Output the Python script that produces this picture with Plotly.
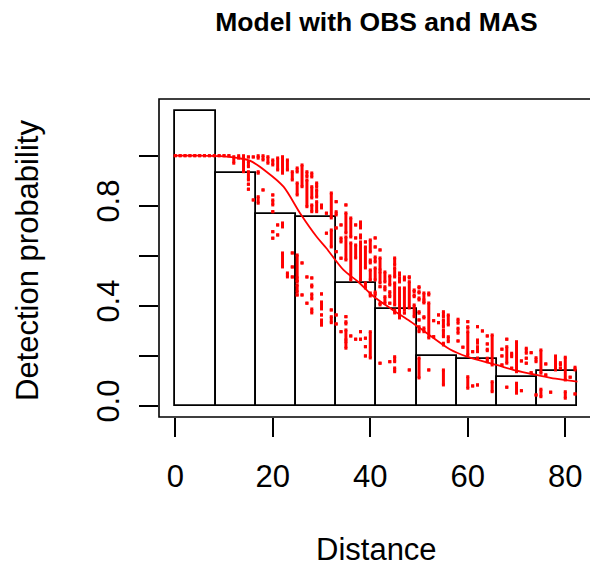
import plotly.graph_objects as go

# ---------------- data ----------------
title_text = "Model with OBS and MAS"
x_label = "Distance"
y_label = "Detection probability"

x_tickvals = [0, 20, 40, 60, 80]
x_ticktext = ["0", "20", "40", "60", "80"]
y_tickvals = [0.0, 0.2, 0.4, 0.6, 0.8, 1.0]
y_ticktext = ["0.0", "", "0.4", "", "0.8", ""]

# histogram (scaled) of observed distances
bin_edges = [0, 8.25, 16.5, 24.75, 33.0, 41.25, 49.5, 57.75, 66.0, 74.25, 82.5]
bin_heights = [1.179, 0.930, 0.767, 0.754, 0.490, 0.387, 0.199, 0.187, 0.114, 0.140]

# average detection function
curve_dist = [0, 5, 10, 13, 15.3, 18.7, 22.2, 25.6, 29, 31, 34.5, 37.5, 40.5,
              44.4, 47.8, 51.2, 56.3, 60, 65.9, 70, 74.1, 78, 82.5]
curve_p = [1.0, 1.0, 0.997, 0.99, 0.98, 0.936, 0.876, 0.77, 0.676, 0.63, 0.543,
           0.496, 0.44, 0.386, 0.343, 0.296, 0.226, 0.195, 0.163, 0.14, 0.123,
           0.108, 0.096]

# fitted detection probabilities of individual observations (stacked runs)
pt_dist = [
    0, 1, 2, 3, 4, 5, 6, 7, 8, 9, 10, 11,
    12,
    13,
    14,
    15, 15, 15, 15, 15,
    16, 16,
    17, 17, 17,
    18, 18,
    19,
    20, 20, 20, 20, 20, 20,
    21, 21, 21,
    22, 22, 22,
    23, 23,
    24, 24, 24, 24,
    25, 25, 25, 25, 25, 25,
    26, 26, 26,
    27, 27, 27, 27,
    28, 28, 28, 28, 28, 28, 28,
    29, 29, 29,
    30, 30, 30, 30, 30, 30,
    31, 31,
    32, 32, 32, 32,
    33, 33, 33, 33, 33, 33,
    34, 34, 34, 34,
    35, 35, 35, 35, 35, 35, 35,
    36, 36, 36,
    37, 37, 37, 37,
    38, 38, 38, 38, 38,
    39, 39, 39, 39, 39, 39,
    40, 40, 40, 40, 40,
    41, 41, 41, 41, 41,
    42, 42, 42, 42, 42, 42,
    43, 43, 43,
    44, 44, 44, 44,
    45, 45, 45, 45, 45, 45,
    46, 46, 46, 46,
    47, 47, 47,
    48, 48, 48,
    49, 49, 49,
    50, 50, 50, 50, 50, 50, 50,
    51, 51, 51, 51,
    52, 52, 52,
    53, 53,
    54, 54,
    55, 55, 55, 55, 55,
    56, 56,
    58, 58, 58,
    59,
    60, 60, 60, 60,
    61, 61,
    62, 62, 62, 62, 62,
    63,
    64, 64, 64, 64,
    65, 65,
    67, 67, 67,
    68, 68, 68,
    69, 69,
    70, 70,
    71, 71,
    72, 72, 72,
    73, 73,
    74, 74,
    75, 75,
    76, 76,
    77,
    78,
    79, 79,
    80, 80,
    81,
    82, 82,
]
pt_top = [
    1.0, 1.0, 1.0, 1.0, 1.0, 1.0, 1.0, 1.0, 1.0, 1.0, 1.0, 1.0,
    0.996,
    1.0,
    1.0,
    0.995, 0.976, 0.936, 0.886, 0.866,
    0.995, 0.823,
    1.0, 0.936, 0.836,
    1.0, 0.863,
    0.996,
    0.983, 0.843, 0.823, 0.776, 0.696, 0.670,
    0.991, 0.723, 0.683,
    0.996, 0.731, 0.611,
    0.983, 0.531,
    0.936, 0.611, 0.555, 0.515,
    0.951, 0.891, 0.603, 0.503, 0.483, 0.443,
    0.963, 0.571, 0.443,
    0.936, 0.903, 0.515, 0.410,
    0.931, 0.876, 0.803, 0.511, 0.483, 0.447, 0.387,
    0.891, 0.863, 0.816,
    0.803, 0.447, 0.415, 0.363, 0.343, 0.323,
    0.770, 0.690,
    0.851, 0.703, 0.383, 0.356,
    0.816, 0.776, 0.711, 0.616, 0.363, 0.327,
    0.723, 0.671, 0.590, 0.296,
    0.803, 0.771, 0.675, 0.356, 0.336, 0.303, 0.256,
    0.751, 0.651, 0.279,
    0.723, 0.671, 0.643, 0.266,
    0.735, 0.683, 0.655, 0.296, 0.266,
    0.655, 0.635, 0.491, 0.270, 0.236, 0.199,
    0.663, 0.583, 0.543, 0.451, 0.296,
    0.671, 0.635, 0.595, 0.551, 0.455,
    0.623, 0.591, 0.535, 0.476, 0.411, 0.170,
    0.535, 0.476, 0.436,
    0.519, 0.456, 0.410, 0.176,
    0.591, 0.551, 0.491, 0.383, 0.196, 0.151,
    0.531, 0.511, 0.503, 0.471,
    0.515, 0.471, 0.371,
    0.516, 0.496, 0.143,
    0.463, 0.443, 0.403,
    0.476, 0.456, 0.431, 0.376, 0.343, 0.316, 0.191,
    0.451, 0.416, 0.356, 0.311,
    0.451, 0.411, 0.143,
    0.340, 0.276,
    0.363, 0.332,
    0.376, 0.343, 0.303, 0.250, 0.143,
    0.363, 0.276,
    0.346, 0.310, 0.259,
    0.234,
    0.336, 0.316, 0.296, 0.116,
    0.216, 0.079,
    0.316, 0.263, 0.236, 0.190, 0.083,
    0.299,
    0.279, 0.247, 0.226, 0.190,
    0.283, 0.096,
    0.226, 0.199, 0.163,
    0.266, 0.236, 0.074,
    0.210, 0.150,
    0.256, 0.090,
    0.179, 0.060,
    0.230, 0.190, 0.170,
    0.212, 0.132,
    0.192, 0.043,
    0.223, 0.066,
    0.167, 0.123,
    0.054,
    0.199,
    0.172, 0.150,
    0.194, 0.056,
    0.114,
    0.154, 0.047,
]
pt_bot = [
    1.0, 1.0, 1.0, 1.0, 1.0, 1.0, 1.0, 1.0, 1.0, 1.0, 1.0, 1.0,
    0.970,
    0.990,
    0.936,
    0.995, 0.956, 0.903, 0.886, 0.866,
    0.995, 0.823,
    0.990, 0.930, 0.810,
    0.983, 0.863,
    0.970,
    0.963, 0.843, 0.803, 0.776, 0.696, 0.670,
    0.943, 0.723, 0.683,
    0.930, 0.715, 0.555,
    0.943, 0.515,
    0.903, 0.611, 0.555, 0.515,
    0.935, 0.843, 0.511, 0.495, 0.455, 0.443,
    0.876, 0.571, 0.443,
    0.916, 0.796, 0.515, 0.410,
    0.915, 0.831, 0.776, 0.511, 0.475, 0.427, 0.371,
    0.875, 0.835, 0.776,
    0.791, 0.447, 0.387, 0.363, 0.331, 0.323,
    0.770, 0.690,
    0.751, 0.635, 0.383, 0.332,
    0.816, 0.763, 0.711, 0.616, 0.363, 0.327,
    0.723, 0.655, 0.590, 0.296,
    0.803, 0.691, 0.583, 0.356, 0.327, 0.263, 0.230,
    0.675, 0.503, 0.279,
    0.723, 0.671, 0.591, 0.266,
    0.711, 0.671, 0.503, 0.296, 0.266,
    0.655, 0.551, 0.471, 0.270, 0.236, 0.199,
    0.615, 0.571, 0.503, 0.439, 0.191,
    0.671, 0.635, 0.575, 0.503, 0.443,
    0.623, 0.543, 0.491, 0.476, 0.403, 0.170,
    0.495, 0.463, 0.410,
    0.483, 0.436, 0.410, 0.176,
    0.563, 0.515, 0.403, 0.371, 0.176, 0.136,
    0.523, 0.511, 0.495, 0.351,
    0.503, 0.383, 0.371,
    0.511, 0.391, 0.143,
    0.456, 0.436, 0.356,
    0.471, 0.451, 0.423, 0.370, 0.343, 0.296, 0.111,
    0.423, 0.411, 0.351, 0.296,
    0.443, 0.271, 0.143,
    0.340, 0.276,
    0.363, 0.332,
    0.356, 0.316, 0.276, 0.243, 0.083,
    0.323, 0.256,
    0.330, 0.290, 0.259,
    0.234,
    0.336, 0.310, 0.203, 0.070,
    0.216, 0.079,
    0.316, 0.250, 0.216, 0.190, 0.083,
    0.299,
    0.279, 0.247, 0.220, 0.176,
    0.163, 0.056,
    0.226, 0.199, 0.163,
    0.266, 0.170, 0.074,
    0.196, 0.150,
    0.136, 0.050,
    0.179, 0.060,
    0.210, 0.190, 0.170,
    0.212, 0.132,
    0.176, 0.043,
    0.130, 0.036,
    0.167, 0.123,
    0.054,
    0.143,
    0.163, 0.150,
    0.103, 0.030,
    0.114,
    0.143, 0.047,
]
assert len(pt_dist) == len(pt_top) == len(pt_bot)

# ---------------- figure ----------------
FONT = "Liberation Sans, Arial, Helvetica, sans-serif"
W, H = 590, 569
ML, MR, MT, MB = 159, 0, 99, 152

bin_mid = [(a + b) / 2 for a, b in zip(bin_edges[:-1], bin_edges[1:])]
bin_w = [b - a for a, b in zip(bin_edges[:-1], bin_edges[1:])]

seg_x, seg_y = [], []
for d, t, b in zip(pt_dist, pt_top, pt_bot):
    seg_x += [d, d, None]
    seg_y += [t, b, None]

fig = go.Figure()
fig.add_trace(go.Bar(
    x=bin_mid, y=bin_heights, width=bin_w,
    marker=dict(color="white", line=dict(color="black", width=1.8)),
    showlegend=False, hoverinfo="skip"))
fig.add_trace(go.Scatter(
    x=seg_x, y=seg_y, mode="lines+markers",
    line=dict(color="#ff0000", width=3),
    marker=dict(color="#ff0000", size=3, symbol="square", line=dict(width=0)),
    showlegend=False, hoverinfo="skip", connectgaps=False))
fig.add_trace(go.Scatter(
    x=curve_dist, y=curve_p, mode="lines",
    line=dict(color="#ff0000", width=1.8, shape="spline", smoothing=0.8),
    showlegend=False, hoverinfo="skip"))

axis_font = dict(family=FONT, size=31, color="black")
fig.update_layout(
    width=W, height=H,
    margin=dict(l=ML, r=MR, t=MT, b=MB, pad=0),
    paper_bgcolor="white", plot_bgcolor="white",
    bargap=0,
    showlegend=False,
    font=dict(family=FONT, color="black"),
    title=dict(text="<b>" + title_text + "</b>",
               font=dict(family=FONT, size=26.5, color="black"),
               x=376.5 / W, xanchor="center", xref="container",
               y=1 - 22 / H, yanchor="middle", yref="container"),
    xaxis=dict(range=[-3.34, 85.07], tickvals=x_tickvals, ticktext=x_ticktext,
               ticks="outside", ticklen=19, tickwidth=1.5, tickcolor="black",
               tickfont=axis_font, showgrid=False, zeroline=False,
               showline=False, ticklabelstandoff=13, fixedrange=True),
    yaxis=dict(range=[-0.0452, 1.2268], tickvals=y_tickvals, ticktext=y_ticktext,
               ticks="outside", ticklen=19, tickwidth=1.5, tickcolor="black",
               tickfont=axis_font, tickangle=-90, showgrid=False, zeroline=False,
               showline=False, ticklabelstandoff=8, fixedrange=True),
    shapes=[dict(type="rect", xref="paper", yref="paper",
                 x0=0, x1=1.02, y0=0, y1=1,
                 line=dict(color="black", width=1.6), layer="above")],
    annotations=[
        dict(text=x_label, xref="paper", yref="paper",
             x=(376 - ML) / (W - ML - MR), y=(H - MB - 549) / (H - MT - MB),
             xanchor="center", yanchor="middle", showarrow=False,
             font=axis_font),
        dict(text=y_label, xref="paper", yref="paper",
             x=(27 - ML) / (W - ML - MR), y=(H - MB - 261) / (H - MT - MB),
             xanchor="center", yanchor="middle", showarrow=False,
             textangle=-90, font=axis_font),
    ],
)

fig.write_html("out.html")
